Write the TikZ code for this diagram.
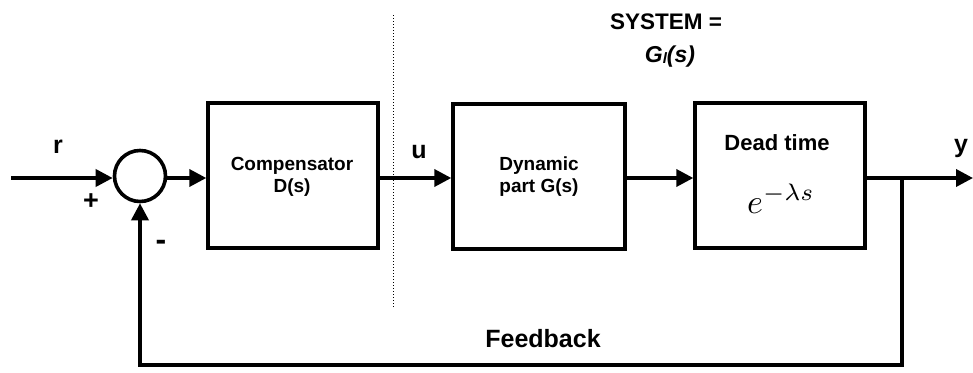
\documentclass[tikz,border=0pt]{standalone}
\usepackage{fontspec}
\setmainfont{Liberation Sans}
\usetikzlibrary{arrows.meta}
\begin{document}
\begin{tikzpicture}[x=1pt,y=-1pt,
  blockbox/.style={draw,line width=3.4pt,minimum width=#1,minimum height=145pt,inner sep=0pt},
  conn/.style={line width=3.6pt},
  arr/.style={conn,-{Triangle[length=17pt,width=17pt]}},
  lbl/.style={font=\fontsize{25}{28}\selectfont\bfseries,inner sep=0pt},
  small/.style={font=\fontsize{19}{22}\selectfont\bfseries,align=center,inner sep=0pt}]
\useasboundingbox (0,0) rectangle (973,372);

% summing junction and blocks
\node[circle,draw,line width=3.6pt,minimum size=51pt,inner sep=0pt] (sum) at (140,176) {};
\node[blockbox=170pt] (comp) at (293,175.5) {};
\node[blockbox=172pt] (dyn) at (539,176.5) {};
\node[blockbox=170pt] (dead) at (780,175.5) {};

% block texts
\node[small] at (292,177) {Compensator\\D(s)};
\node[small] at (539,177) {Dynamic\\part G(s)};
\node[font=\fontsize{22}{26}\selectfont\bfseries,inner sep=0pt,anchor=base] at (777,150) {Dead time};
\node[inner sep=0pt,anchor=base west] at (747,213) {\scalebox{3.4}{$e^{-\lambda s}$}};

% signal path
\coordinate (in) at (11,178);
\coordinate (out) at (973,178);
\coordinate (br) at (902,178);
\coordinate (fbr) at (902,365);
\coordinate (fbl) at (140,365);
\draw[arr] (in) -- (sum.west |- in);
\draw[arr] (sum.east |- in) -- (comp.west |- in);
\draw[arr] (comp.east |- in) -- (dyn.west |- in);
\draw[arr] (dyn.east |- in) -- (dead.west |- in);
\draw[arr] (dead.east |- in) -- (out);
\draw[arr] (br) -- (fbr) -- (fbl) -- (sum.south);

% signal labels
\node[lbl,anchor=base] at (58,153) {r};
\node[lbl,anchor=base] at (419,158) {u};
\node[lbl,anchor=base] at (961,152) {y};
\node[font=\fontsize{27}{28}\selectfont\bfseries,inner sep=0pt] at (91,202) {+};
\node[font=\fontsize{32}{32}\selectfont\bfseries,inner sep=0pt] at (161,245) {-};
\node[font=\fontsize{25}{28}\selectfont\bfseries,inner sep=0pt,anchor=base] (fb) at (543,347) {Feedback};

% system boundary and title
\coordinate (dtop) at (393,15);
\coordinate (dbot) at (393,308);
\draw[line width=1pt,dotted] (dtop) -- (dbot);
\node[font=\fontsize{22.5}{26}\selectfont\bfseries,inner sep=0pt,anchor=base] at (666,29) {SYSTEM =};
\node[font=\fontsize{23}{26}\selectfont\bfseries\itshape,inner sep=0pt,anchor=base] at (670,62)
  {G{\fontsize{15}{16}\selectfont\raisebox{-1.5pt}{l}}(s)};
\end{tikzpicture}
\end{document}
